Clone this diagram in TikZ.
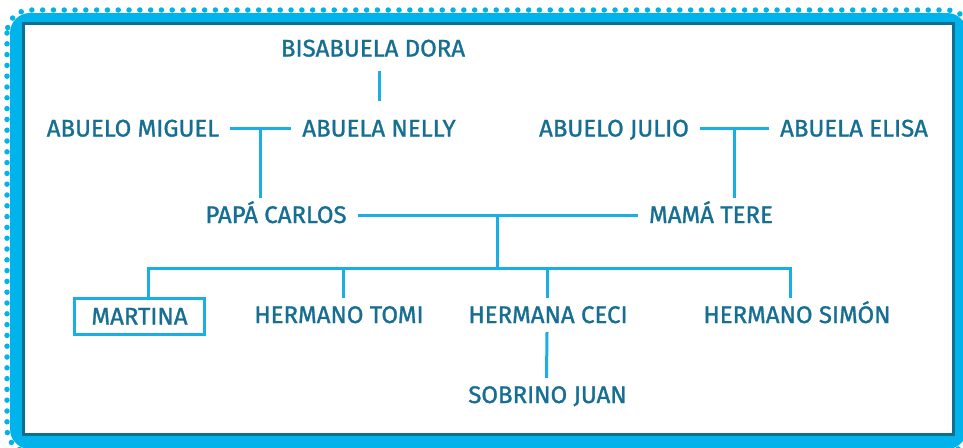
\documentclass[tikz,border=0pt]{standalone}
\usepackage{fontspec}
\setmainfont{Fira Sans}[FakeBold=1.2]
\usepackage{tikz}
\usetikzlibrary{calc}

\begin{document}
\begin{tikzpicture}
	[x=1pt,y=-1pt,
	%Styles
	person/.style={text=namecolor,inner xsep=11pt,inner ysep=9pt,text height=16pt,text depth=0pt,font=\fontsize{24}{24}\selectfont},
	martina box/.style={draw=linecolor,line width=2.5pt,inner xsep=17pt,inner ysep=10pt},
	family line/.style={draw=linecolor,line width=3pt}
	]
	
	%Colors
	\definecolor{namecolor}{HTML}{166F93}
	\definecolor{linecolor}{HTML}{1AAEE6}
	\definecolor{bandcolor}{HTML}{00B4EB}
	\definecolor{framecolor}{HTML}{0C6F8F}
	
	%The frame
	\begin{scope}
		\clip (0,0) rectangle (963,447);
		\draw[bandcolor,line width=5.5pt,dash pattern=on 0pt off 10.8pt,line cap=round,rounded corners=23pt] (7,10) rectangle (970,452);
		\fill[bandcolor,rounded corners=20pt] (10,13) rectangle (967,449);
		\fill[framecolor] (22,22) rectangle (955,436);
		\fill[white] (25,25) rectangle (952,433);
	\end{scope}
	
	%The family
	\node[person] (dora) at (373,48.5) {BISABUELA DORA};
	\node[person] (miguel) at (133,128.5) {ABUELO MIGUEL};
	\node[person] (nelly) at (379,128.5) {ABUELA NELLY};
	\node[person] (julio) at (614,128.5) {ABUELO JULIO};
	\node[person] (elisa) at (854,128.5) {ABUELA ELISA};
	\node[person] (carlos) at (276,215) {PAPÁ CARLOS};
	\node[person] (tere) at (711,215) {MAMÁ TERE};
	\node[person,martina box] (martina) at (139.5,316.5) {MARTINA};
	\node[person] (tomi) at (339,315) {HERMANO TOMI};
	\node[person] (ceci) at (548,315) {HERMANA CECI};
	\node[person] (simon) at (797,315) {HERMANO SIMÓN};
	\node[person] (juan) at (547.5,395) {SOBRINO JUAN};
	
	\draw[family line,shorten <=5pt,shorten >=10pt] (dora.south -| nelly.north) -- (nelly.north);
	
	\draw[family line] (miguel.east) -- coordinate (miguelnelly) (nelly.west);
	\draw[family line] (miguelnelly) -- (miguelnelly |- carlos.north);
	\draw[family line] (julio.east) -- coordinate (julioelisa) (elisa.west);
	\draw[family line] (julioelisa) -- (julioelisa |- tere.north);
	
	\draw[family line] (carlos.east) -- coordinate (parents) (tere.west);
	\coordinate (kids) at ($(parents)+(0,53)$);
	\draw[family line] (parents) -- (kids);
	\draw[family line] ([xshift=8.5pt]martina.north) |- (kids) -| ([xshift=-7pt]simon.north);
	\draw[family line] ([xshift=4pt]tomi.north) -- ([xshift=4pt]tomi.north |- kids);
	\draw[family line] ([xshift=-1pt]ceci.north) -- ([xshift=-1pt]ceci.north |- kids);
	\draw[family line] ([xshift=-1pt]ceci.south) -- ([xshift=-1pt]juan.north);
\end{tikzpicture}
\end{document}
